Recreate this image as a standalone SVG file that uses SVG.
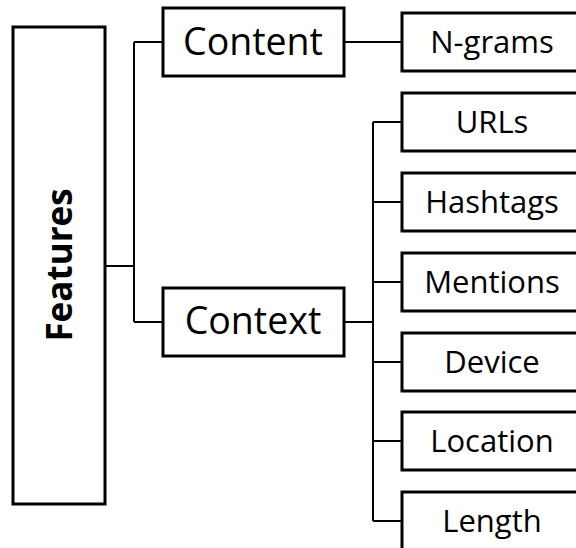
<svg xmlns="http://www.w3.org/2000/svg" width="576" height="548" viewBox="0 0 576 548">
  <style>
    .box { fill: #ffffff; stroke: #000000; stroke-width: 3; }
    .wire { fill: none; stroke: #000000; stroke-width: 2; }
    .lbl { font-family: "Open Sans", "Noto Sans", sans-serif; fill: #000000; text-anchor: middle; }
    .mid { font-size: 37.5px; }
    .leaf { font-size: 31px; }
    .root { font-size: 35px; font-weight: bold; }
  </style>
  <rect width="576" height="548" fill="#ffffff"/>

  <g id="connectors">
    <path class="wire" d="M105 266 H134 M134 42 V322 M134 42 H163 M134 322 H163"/>
    <path class="wire" d="M344 42 H402"/>
    <path class="wire" d="M344 322 H373 M373 122 V521"/>
    <path class="wire" d="M373 122 H402 M373 202 H402 M373 282 H402 M373 362 H402 M373 441 H402 M373 521 H402"/>
  </g>

  <g id="features">
    <rect class="box" x="13" y="27" width="92" height="477"/>
    <text class="lbl root" transform="translate(72,265) rotate(-90)">Features</text>
  </g>

  <g id="content">
    <rect class="box" x="163" y="8" width="181" height="68"/>
    <text class="lbl mid" x="253" y="55">Content</text>
  </g>

  <g id="context">
    <rect class="box" x="163" y="288" width="181" height="68"/>
    <text class="lbl mid" x="253" y="334">Context</text>
  </g>

  <g id="ngrams">
    <rect class="box" x="402" y="13" width="182" height="58"/>
    <text class="lbl leaf" x="492" y="53">N-grams</text>
  </g>

  <g id="urls">
    <rect class="box" x="402" y="93" width="182" height="58"/>
    <text class="lbl leaf" x="492" y="133">URLs</text>
  </g>

  <g id="hashtags">
    <rect class="box" x="402" y="173" width="182" height="58"/>
    <text class="lbl leaf" x="492" y="213">Hashtags</text>
  </g>

  <g id="mentions">
    <rect class="box" x="402" y="253" width="182" height="58"/>
    <text class="lbl leaf" x="492" y="293">Mentions</text>
  </g>

  <g id="device">
    <rect class="box" x="402" y="333" width="182" height="58"/>
    <text class="lbl leaf" x="492" y="373">Device</text>
  </g>

  <g id="location">
    <rect class="box" x="402" y="412" width="182" height="58"/>
    <text class="lbl leaf" x="492" y="452">Location</text>
  </g>

  <g id="length">
    <rect class="box" x="402" y="492" width="182" height="58"/>
    <text class="lbl leaf" x="492" y="532">Length</text>
  </g>
</svg>
